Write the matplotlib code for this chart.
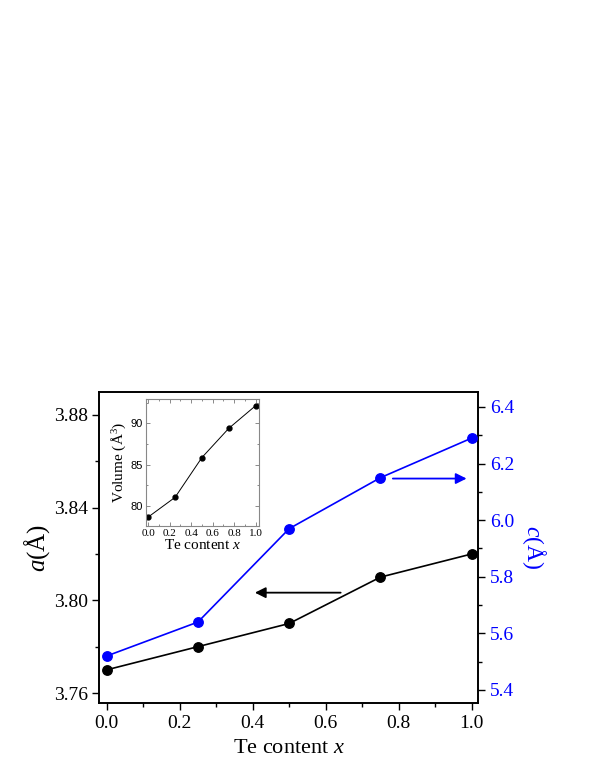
import matplotlib
matplotlib.use("Agg")
import matplotlib.pyplot as plt
from matplotlib.ticker import MultipleLocator, FormatStrFormatter

plt.rcParams['font.family'] = ['Liberation Serif', 'DejaVu Serif']
plt.rcParams['mathtext.fontset'] = 'custom'
plt.rcParams['mathtext.rm'] = 'Liberation Serif'
plt.rcParams['mathtext.it'] = 'Liberation Serif:italic'

# Data
te_x = [0.0, 0.25, 0.5, 0.75, 1.0]
a_vals = [3.770, 3.780, 3.790, 3.810, 3.820]
c_vals = [5.52, 5.64, 5.97, 6.15, 6.29]
volume = [78.63, 81.02, 85.85, 89.39, 92.14]

xticks = [0.0, 0.2, 0.4, 0.6, 0.8, 1.0]
a_ticks = [3.76, 3.80, 3.84, 3.88]
c_ticks = [5.4, 5.6, 5.8, 6.0, 6.2, 6.4]
vol_ticks = [80, 85, 90]

# arrow annotation anchors (data coords)
black_arrow = dict(tail=(0.641, 3.8033), tip=(0.406, 3.8033))
blue_arrow = dict(tail=(0.784, 6.147), tip=(0.986, 6.147))

BLUE = '#0000ff'

fig = plt.figure(figsize=(5.99, 7.76), dpi=100)
ax = fig.add_axes([0.1661, 0.0941, 0.6319, 0.4008])
ax2 = ax.twinx()

ax.plot(te_x, a_vals, '-o', color='black', lw=1.2, ms=6.8, zorder=3)
ax2.plot(te_x, c_vals, '-o', color=BLUE, lw=1.2, ms=6.8, zorder=3)

ax.set_xlim(-0.0197, 1.0173)
ax.set_ylim(3.7557, 3.8899)
ax2.set_ylim(5.354, 6.453)

ax.set_xticks(xticks)
ax.xaxis.set_minor_locator(MultipleLocator(0.1))
ax.set_yticks(a_ticks)
ax.yaxis.set_minor_locator(MultipleLocator(0.02))
ax.yaxis.set_major_formatter(FormatStrFormatter('%.2f'))
ax.xaxis.set_major_formatter(FormatStrFormatter('%.1f'))
ax2.set_yticks(c_ticks)
ax2.yaxis.set_minor_locator(MultipleLocator(0.1))
ax2.yaxis.set_major_formatter(FormatStrFormatter('%.1f'))

for a in (ax, ax2):
    a.tick_params(which='major', direction='out', length=5, width=1.0, labelsize=14)
    a.tick_params(which='minor', direction='out', length=3, width=1.0)
    for s in a.spines.values():
        s.set_linewidth(1.2)
ax2.tick_params(axis='y', which='both', labelcolor=BLUE, colors='black')
ax2.tick_params(axis='y', labelcolor=BLUE)

ax.set_xlabel('Te content $x$', fontsize=16, labelpad=5)
ax.set_ylabel('$a$(Å)', fontsize=18, labelpad=1)
ax2.set_ylabel('$c$(Å)', fontsize=17, color=BLUE, rotation=270,
               labelpad=24)

ax.annotate('', xy=black_arrow['tip'], xytext=black_arrow['tail'],
            arrowprops=dict(arrowstyle='-|>', color='black', lw=1.3,
                            mutation_scale=16, shrinkA=0, shrinkB=0))
ax2.annotate('', xy=blue_arrow['tip'], xytext=blue_arrow['tail'],
             arrowprops=dict(arrowstyle='-|>', color=BLUE, lw=1.3,
                             mutation_scale=16, shrinkA=0, shrinkB=0))

# Inset
ins = fig.add_axes([0.2432, 0.3225, 0.1891, 0.1633])
ins.plot(te_x, volume, '-o', color='black', lw=0.7, ms=3.5)
ins.set_xlim(-0.024, 1.031)
ins.set_ylim(77.57, 92.95)
ins.set_xticks(xticks)
ins.xaxis.set_minor_locator(MultipleLocator(0.1))
ins.xaxis.set_major_formatter(FormatStrFormatter('%.1f'))
ins.set_yticks(vol_ticks)
ins.yaxis.set_minor_locator(MultipleLocator(2.5))
ins.tick_params(which='both', direction='in', top=True, right=True,
                color='#777777', width=0.6, labelsize=8, pad=2)
ins.tick_params(which='major', length=3)
ins.tick_params(which='minor', length=1.5)
for lab in ins.get_yticklabels():
    lab.set_family(['Liberation Sans', 'DejaVu Sans'])
for s in ins.spines.values():
    s.set_color('#888888')
    s.set_linewidth(0.8)
ins.set_xlabel('Te content $x$', fontsize=11, labelpad=0)
ins.set_ylabel('Volume (Å$^3$)', fontsize=11, labelpad=2)

fig.savefig('out.png', dpi=100)
